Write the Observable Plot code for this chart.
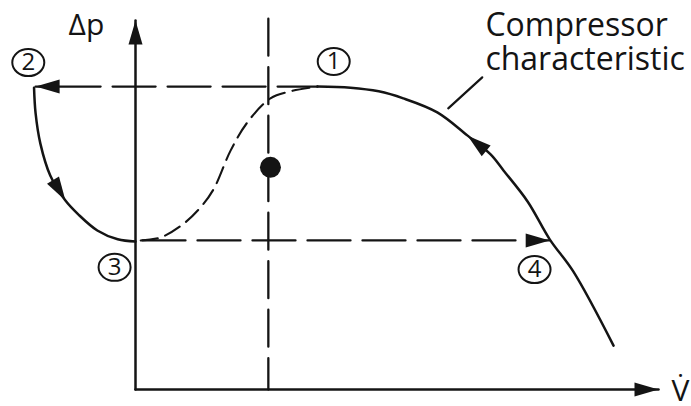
<!DOCTYPE html>
<html><head><meta charset="utf-8">
<script src="https://cdn.jsdelivr.net/npm/d3@7"></script>
<script src="https://cdn.jsdelivr.net/npm/@observablehq/plot@0.6"></script>
<style>html,body{margin:0;padding:0;background:#fff;}</style>
</head><body><div id="chart"></div>
<script>
// ---- data (arbitrary units: V̇ along x, Δp along y) ----
const levelHigh = 8.21;      // Δp of points ① and ②
const levelLow = 4.04;       // Δp of points ③ and ④
const throttleX = 2.54;      // vertical dashed line
const operatingPoint = [{x: 2.58, y: 6.02}];

// compressor characteristic (from ① down to the right)
const compX = [3.48, 4.11, 4.65, 5.12, 5.77, 6.35, 6.79, 7.04, 7.50, 7.92, 8.37, 9.14];
const compY = [8.21, 8.18, 8.08, 7.89, 7.51, 6.88, 6.37, 5.93, 5.09, 4.07, 3.20, 1.19];

// surge drop from ② to ③
const surgeX = [-1.94, -1.91, -1.82, -1.63, -1.34, -1.09, -0.73, -0.34, 0.00];
const surgeY = [8.18, 7.48, 6.67, 5.80, 5.12, 4.74, 4.31, 4.07, 4.01];

// unstable (dashed) branch from ③ to ①
const stallX = [0.10, 0.48, 0.90, 1.24, 1.49, 1.82, 2.14, 2.58, 2.96, 3.48];
const stallY = [4.04, 4.12, 4.47, 4.93, 5.42, 6.48, 7.24, 7.89, 8.08, 8.21];

const point2X = -1.91;       // left end of the ①→② jump
const point4X = 7.92;        // right end of the ③→④ jump

const pointLabels = ["1", "2", "3", "4"];
const pointLabelX = [3.79, -2.05, -0.40, 7.63];
const pointLabelY = [8.89, 8.86, 3.31, 3.25];

const axisMax = 10;
const yLabel = "Δp";
const xLabel = "V\u0307";
const curveLabel = "Compressor\ncharacteristic";

// ---- build ----
const xOpts = {domain: [0, 10], range: [135, 658]};
const yOpts = {domain: [0, 10], range: [389, 20]};
const sx = Plot.scale({x: xOpts});
const sy = Plot.scale({y: yOpts});

const toPts = (xs, ys) => xs.map((x, i) => ({x, y: ys[i]}));
const comp = toPts(compX, compY);
const surge = toPts(surgeX, surgeY);
const stall = toPts(stallX, stallY);
const labels = pointLabels.map((t, i) => ({t, x: pointLabelX[i], y: pointLabelY[i]}));

function arrow(tip, from) {
  const dx = sx.apply(tip.x) - sx.apply(from.x);
  const dy = sy.apply(tip.y) - sy.apply(from.y);
  return {x: tip.x, y: tip.y, angle: Math.atan2(dx, -dy) * 180 / Math.PI};
}
const arrows = [
  arrow({x: 0, y: axisMax}, {x: 0, y: 0}),
  arrow({x: axisMax, y: 0}, {x: 0, y: 0}),
  arrow({x: point2X, y: levelHigh}, {x: compX[0], y: levelHigh}),
  arrow({x: point4X, y: levelLow}, {x: 0, y: levelLow}),
  arrow(surge[4], surge[3]),
  arrow(comp[5], comp[6])
];

const arrowSymbol = {draw(ctx) { ctx.moveTo(0, 0); ctx.lineTo(-7, 24); ctx.lineTo(7, 24); ctx.closePath(); }};
const ovalSymbol = {draw(ctx) {
  const rx = 16, ry = 13.5, k = 0.5523;
  ctx.moveTo(rx, 0);
  ctx.bezierCurveTo(rx, k * ry, k * rx, ry, 0, ry);
  ctx.bezierCurveTo(-k * rx, ry, -rx, k * ry, -rx, 0);
  ctx.bezierCurveTo(-rx, -k * ry, -k * rx, -ry, 0, -ry);
  ctx.bezierCurveTo(k * rx, -ry, rx, -k * ry, rx, 0);
  ctx.closePath();
}};

const ink = "#141414";
const leader = [{x: 5.98, y: 7.62}, {x: 6.63, y: 8.46}];

const chart = Plot.plot({
  width: 691, height: 406,
  x: xOpts, y: yOpts,
  axis: null,
  style: {background: "#fff", fontFamily: "'Open Sans', sans-serif"},
  marks: [
    // axes
    Plot.line([{x: 0, y: 0}, {x: 0, y: axisMax}], {x: "x", y: "y", stroke: ink, strokeWidth: 2.5}),
    Plot.line([{x: 0, y: 0}, {x: axisMax, y: 0}], {x: "x", y: "y", stroke: ink, strokeWidth: 2.5}),
    // dashed guide lines
    Plot.line([{x: throttleX, y: 10.05}, {x: throttleX, y: 0}], {x: "x", y: "y", stroke: ink, strokeWidth: 2.3, strokeDasharray: "37,11.5"}),
    Plot.line([{x: point2X, y: levelHigh}, {x: compX[0], y: levelHigh}], {x: "x", y: "y", stroke: ink, strokeWidth: 2.3, strokeDasharray: "43,12", strokeDashoffset: 33}),
    Plot.line([{x: 0, y: levelLow}, {x: point4X, y: levelLow}], {x: "x", y: "y", stroke: ink, strokeWidth: 2.3, strokeDasharray: "43,12", strokeDashoffset: 48}),
    // curves
    Plot.line(stall, {x: "x", y: "y", curve: "catmull-rom", stroke: ink, strokeWidth: 2.1, strokeDasharray: "17,8"}),
    Plot.line(surge, {x: "x", y: "y", curve: "catmull-rom", stroke: ink, strokeWidth: 2.5}),
    Plot.line(comp, {x: "x", y: "y", curve: "catmull-rom", stroke: ink, strokeWidth: 2.5}),
    Plot.line(leader, {x: "x", y: "y", stroke: ink, strokeWidth: 2.2}),
    // arrowheads
    Plot.dot(arrows, {x: "x", y: "y", rotate: "angle", symbol: arrowSymbol, fill: ink, stroke: "none"}),
    // operating point
    Plot.dot(operatingPoint, {x: "x", y: "y", r: 10.5, fill: ink, stroke: "none"}),
    // circled point numbers
    Plot.dot(labels, {x: "x", y: "y", symbol: ovalSymbol, fill: "#fff", stroke: ink, strokeWidth: 2}),
    Plot.text(labels, {x: "x", y: "y", text: "t", fontSize: 24, fill: ink}),
    // texts
    Plot.text([yLabel], {x: -1.28, y: 9.62, textAnchor: "start", lineAnchor: "bottom", fontSize: 30, fill: ink}),
    Plot.text([xLabel], {x: 10.25, y: -0.30, textAnchor: "start", lineAnchor: "bottom", fontSize: 30, fill: ink}),
    Plot.text([curveLabel], {x: 6.69, y: 8.67, textAnchor: "start", lineAnchor: "bottom", lineHeight: 1.06, fontSize: 32, fill: ink})
  ]
});
document.getElementById("chart").appendChild(chart);
</script>
</body></html>
